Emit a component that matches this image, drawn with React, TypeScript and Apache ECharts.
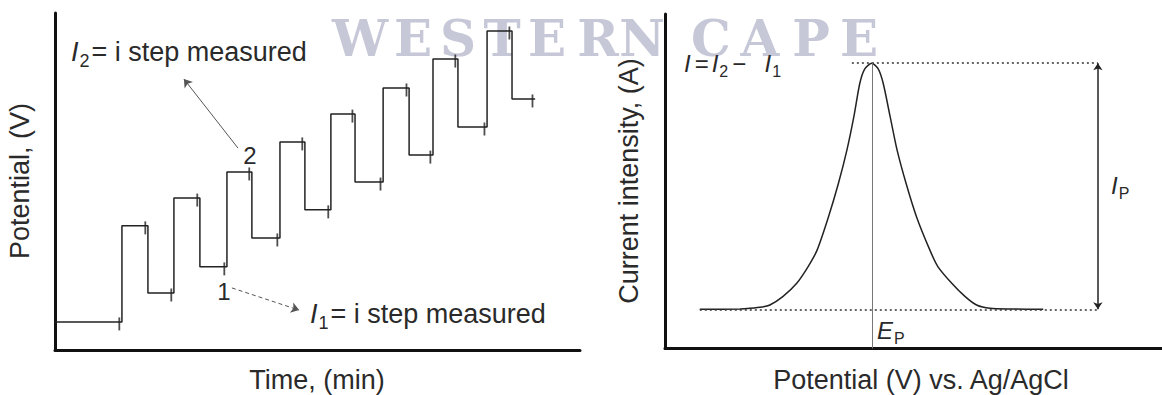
import React, { useEffect, useRef } from "react";
import * as echarts from "echarts";

// ---------- Left panel: staircase potential waveform ----------
const baseLevel = 1.0;
const stepRises = [2.55, 4.53, 6.55, 8.57, 10.51, 12.5, 14.4, 16.46];
const stepDrops = [3.54, 5.52, 7.5, 9.52, 11.43, 13.49, 15.35, 17.41];
const stepEnd = 18.29;
const highLevels = [4.42, 5.41, 6.34, 7.41, 8.4, 9.33, 10.36, 11.36];
const lowLevels = [2.03, 2.96, 3.99, 4.99, 5.98, 6.94, 7.94, 8.94];
const arrow2From = [6.97, 7.19];
const arrow2To = [4.91, 9.65];
const arrow1From = [6.74, 2.21];
const arrow1To = [9.3, 1.42];

// ---------- Right panel: differential pulse peak ----------
const curveX = [7.0, 15.1, 17.1, 19.5, 21.1, 23.7, 26.5, 28.8, 30.6, 32.9, 34.9, 36.6, 38.0, 39.2, 40.2, 41.6, 42.9, 43.9, 45.3, 46.7, 48.5, 50.6, 53.3, 54.9, 57.7, 60.4, 62.7, 65.4, 70.0, 76.1];
const curveY = [11.7, 11.8, 12.0, 12.4, 13.0, 15.5, 19.5, 24.5, 29.4, 39.4, 49.4, 59.3, 69.3, 79.3, 83.6, 85.3, 83.6, 79.3, 69.3, 59.3, 49.4, 39.4, 29.4, 24.5, 19.5, 15.5, 13.0, 12.0, 11.8, 11.7];
const peakX = 41.6;
const peakY = 85.3;
const baseY = 11.7;
const ipX = 87.1;
const baseDotStart = 7.0;
const topDotStart = 37.6;

const watermarkLetters = ["W", "E", "S", "T", "E", "R", "N", "C", "A", "P", "E"];
const watermarkCenters = [360, 413, 458, 502, 547, 598, 642, 711, 760, 811, 859];

const SANS = "'Liberation Sans', Arial, Helvetica, sans-serif";
const TXT = "#2a2a2a";

function buildStairs() {
  const pts: number[][] = [[0, baseLevel]];
  let prev = baseLevel;
  for (let i = 0; i < stepRises.length; i++) {
    pts.push([stepRises[i], prev], [stepRises[i], highLevels[i]], [stepDrops[i], highLevels[i]], [stepDrops[i], lowLevels[i]]);
    prev = lowLevels[i];
  }
  pts.push([stepEnd, prev]);
  return pts;
}

function buildTicks() {
  const t: number[][] = [[stepRises[0] - 0.1, baseLevel]];
  for (let i = 0; i < stepRises.length; i++) {
    t.push([stepDrops[i] - 0.1, highLevels[i]]);
    const end = i + 1 < stepRises.length ? stepRises[i + 1] : stepEnd;
    t.push([end - 0.1, lowLevels[i]]);
  }
  return t;
}

function txt(text: string, x: number, y: number, size: number, opts: any = {}) {
  return {
    type: "text",
    x,
    y,
    rotation: opts.rotation || 0,
    z: 10,
    style: {
      text,
      font: `${opts.italic ? "italic " : ""}${size}px ${SANS}`,
      fill: opts.fill || TXT,
      textAlign: opts.align || "left",
      textVerticalAlign: "middle",
    },
  };
}

function richTxt(text: string, x: number, y: number, size: number) {
  const lh = size + 8;
  return {
    type: "text",
    x,
    y,
    z: 10,
    style: {
      text,
      font: `${size}px ${SANS}`,
      fill: TXT,
      textAlign: "left",
      textVerticalAlign: "middle",
      rich: {
        i: { fontStyle: "italic", fontSize: size, fontFamily: SANS, fill: TXT, lineHeight: lh, verticalAlign: "middle", padding: [0, 1, 0, 0] },
        n: { fontSize: size, fontFamily: SANS, fill: TXT, lineHeight: lh, verticalAlign: "middle", padding: [0, 1, 0, 1] },
        e: { fontSize: size, fontFamily: SANS, fill: TXT, lineHeight: lh, verticalAlign: "middle", padding: [0, 3, 0, 3] },
        s: { fontSize: Math.round(size * 0.68), fontFamily: SANS, fill: TXT, lineHeight: lh, verticalAlign: "bottom", padding: [0, 1, 0, 0] },
      },
    },
  };
}

export default function App() {
  const ref = useRef<HTMLDivElement>(null);
  useEffect(() => {
    if (!ref.current) return;
    const chart = echarts.init(ref.current, undefined, { renderer: "svg" });
    const axisLine = { show: true, onZero: false, lineStyle: { color: "#111", width: 3 } };
    const hidden = { axisTick: { show: false }, axisLabel: { show: false }, splitLine: { show: false } };

    const graphics: any[] = [];
    watermarkLetters.forEach((l, i) => {
      graphics.push({
        type: "text",
        x: watermarkCenters[i],
        y: 38,
        z: -10,
        silent: true,
        style: {
          text: l,
          font: "bold 50px 'DejaVu Serif', 'Liberation Serif', serif",
          fill: "#c6c8d8",
          textAlign: "center",
          textVerticalAlign: "middle",
        },
      });
    });
    // axis titles
    graphics.push(txt("Potential, (V)", 20, 181, 27, { rotation: Math.PI / 2, align: "center" }));
    graphics.push(txt("Time, (min)", 317, 380, 27, { align: "center" }));
    graphics.push(txt("Current intensity, (A)", 629, 181, 27, { rotation: Math.PI / 2, align: "center" }));
    graphics.push(txt("Potential (V) vs. Ag/AgCl", 921, 380, 27, { align: "center" }));
    // left annotations
    graphics.push(richTxt("{i|I}{s|2}{n|= i step measured}", 71, 52, 27));
    graphics.push(richTxt("{i|I}{s|1}{n|= i step measured}", 310, 314, 27));
    graphics.push(txt("2", 250, 155, 24, { align: "center" }));
    graphics.push(txt("1", 224, 291, 24, { align: "center" }));
    // right annotations
    graphics.push(richTxt("{i|I}{e|=}{i|I}{s|2}{e|\u2212}{n|  }{i|I}{s|1}", 684, 63, 24));
    graphics.push(richTxt("{i|E}{s|P}", 877, 330, 24));
    graphics.push(richTxt("{i|I}{s|P}", 1111, 185, 24));

    const dotted = { color: "#333", width: 1.5, type: [2, 3] };

    chart.setOption({
      animation: false,
      backgroundColor: "#ffffff",
      grid: [
        { left: 55, top: 13, right: 582, bottom: 45 },
        { left: 665, top: 14, right: 0, bottom: 46.5 },
      ],
      xAxis: [
        { type: "value", gridIndex: 0, min: 0, max: 20, axisLine, ...hidden },
        { type: "value", gridIndex: 1, min: 0, max: 100, axisLine, ...hidden },
      ],
      yAxis: [
        { type: "value", gridIndex: 0, min: 0, max: 12, axisLine, ...hidden },
        { type: "value", gridIndex: 1, min: 0, max: 100, axisLine, ...hidden },
      ],
      graphic: graphics,
      series: [
        {
          type: "line",
          xAxisIndex: 0,
          yAxisIndex: 0,
          data: buildStairs(),
          symbol: "none",
          silent: true,
          lineStyle: { color: "#222", width: 1.5 },
          markLine: {
            silent: true,
            symbol: ["none", "arrow"],
            symbolSize: 8,
            label: { show: false },
            data: [
              [
                { coord: arrow2From, lineStyle: { color: "#555", width: 1, type: "solid" } },
                { coord: arrow2To },
              ],
              [
                { coord: arrow1From, lineStyle: { color: "#555", width: 1, type: [4, 3] } },
                { coord: arrow1To },
              ],
            ],
          },
        },
        {
          type: "scatter",
          xAxisIndex: 0,
          yAxisIndex: 0,
          data: buildTicks(),
          symbol: "rect",
          symbolSize: [1.8, 13],
          symbolOffset: [0, 2],
          silent: true,
          itemStyle: { color: "#222" },
        },
        {
          type: "line",
          xAxisIndex: 1,
          yAxisIndex: 1,
          data: curveX.map((x, i) => [x, curveY[i]]),
          symbol: "none",
          smooth: 0.25,
          silent: true,
          lineStyle: { color: "#222", width: 1.5 },
          markLine: {
            silent: true,
            symbol: ["none", "none"],
            label: { show: false },
            data: [
              [
                { coord: [baseDotStart, baseY], lineStyle: dotted },
                { coord: [ipX, baseY] },
              ],
              [
                { coord: [topDotStart, peakY], lineStyle: dotted },
                { coord: [ipX, peakY] },
              ],
              [
                { coord: [peakX, 0], lineStyle: { color: "#777", width: 1, type: "solid" } },
                { coord: [peakX, peakY] },
              ],
              [
                { coord: [ipX, baseY], symbol: "arrow", symbolSize: 7, lineStyle: { color: "#222", width: 1.5, type: "solid" } },
                { coord: [ipX, peakY], symbol: "arrow", symbolSize: 7 },
              ],
            ],
          },
        },
      ],
    });
    return () => chart.dispose();
  }, []);

  return (
    <div
      ref={ref}
      style={{ position: "fixed", left: 0, top: 0, width: 1162, height: 395, background: "#fff" }}
    />
  );
}
